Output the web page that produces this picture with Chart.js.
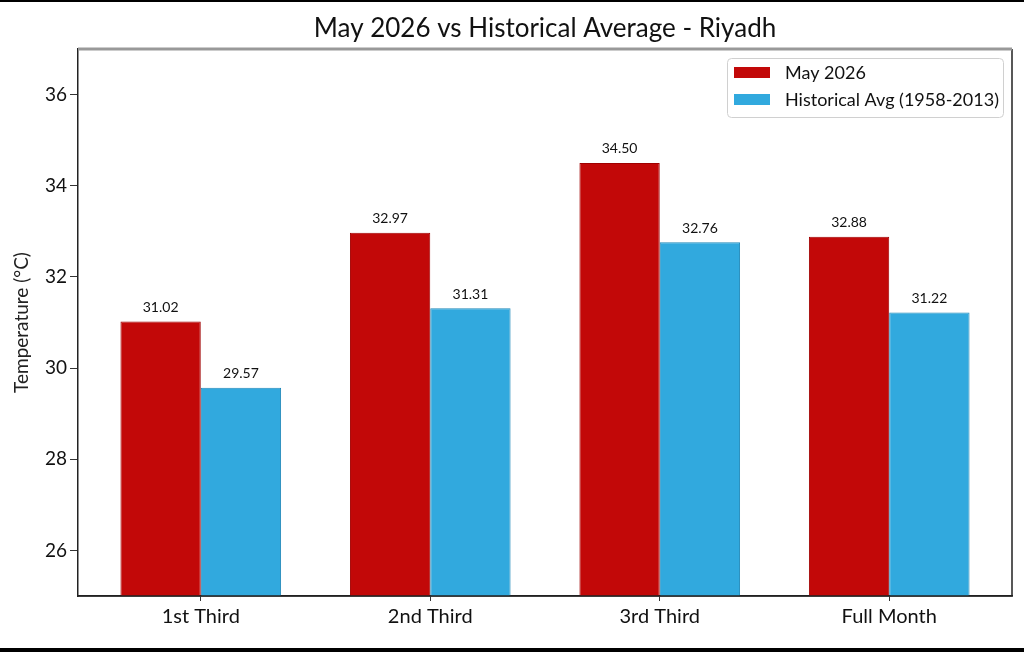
<!DOCTYPE html>
<html>
<head>
<meta charset="utf-8">
<script src="https://cdn.jsdelivr.net/npm/chart.js@4.4.1/dist/chart.umd.min.js"></script>
<style>
  html, body { margin: 0; padding: 0; background: #000; }
  #wrap { position: absolute; left: 0; top: 2px; width: 1024px; height: 646px; background: #fff; }
</style>
</head>
<body>
<div id="wrap"><canvas id="chart" width="1024" height="646"></canvas></div>
<script>
const categories = ['1st Third', '2nd Third', '3rd Third', 'Full Month'];
const may2026 = [31.02, 32.97, 34.50, 32.88];
const historical = [29.57, 31.31, 32.76, 31.22];
const yTicks = [26, 28, 30, 32, 34, 36];
const chartTitle = 'May 2026 vs Historical Average - Riyadh';

const FONT = 'Lato, "Noto Sans", sans-serif';

// value labels above each bar
const barLabels = {
  id: 'barLabels',
  afterDatasetsDraw(chart) {
    const ctx = chart.ctx;
    ctx.save();
    ctx.font = '14px ' + FONT;
    ctx.fillStyle = '#111';
    ctx.textAlign = 'center';
    ctx.textBaseline = 'bottom';
    chart.data.datasets.forEach((ds, i) => {
      chart.getDatasetMeta(i).data.forEach((bar, j) => {
        ctx.fillText(ds.data[j].y.toFixed(2), bar.x, bar.y - 7);
      });
    });
    ctx.restore();
  }
};

// title centred over the plot, box around the plot, legend inside top right
const frameAndLegend = {
  id: 'frameAndLegend',
  afterDraw(chart) {
    const ctx = chart.ctx;
    const a = chart.chartArea;
    ctx.save();
    ctx.fillStyle = '#111';
    ctx.font = '26px ' + FONT;
    ctx.textAlign = 'center';
    ctx.textBaseline = 'alphabetic';
    ctx.fillText(chartTitle, (a.left + a.right) / 2, 35);

    ctx.strokeStyle = '#222';
    ctx.lineWidth = 1.5;
    ctx.beginPath();
    ctx.moveTo(a.left, a.bottom);
    ctx.lineTo(a.right, a.bottom);
    ctx.lineTo(a.right, a.top);
    ctx.stroke();
    ctx.strokeStyle = '#999';
    ctx.lineWidth = 3;
    ctx.beginPath();
    ctx.moveTo(a.left, a.top);
    ctx.lineTo(a.right, a.top);
    ctx.stroke();

    // legend
    const bx = 727, by = 56, bw = 276, bh = 59;
    ctx.fillStyle = 'rgba(255,255,255,0.9)';
    ctx.strokeStyle = '#d0d0d0';
    ctx.lineWidth = 1;
    ctx.beginPath();
    ctx.roundRect(bx + 0.5, by + 0.5, bw, bh, 4);
    ctx.fill();
    ctx.stroke();
    ctx.font = '18px ' + FONT;
    ctx.textBaseline = 'middle';
    ctx.textAlign = 'left';
    chart.data.datasets.forEach((ds, i) => {
      const cy = by + 15 + i * 27;
      ctx.fillStyle = ds.backgroundColor;
      ctx.fillRect(bx + 7, cy - 6, 36, 11);
      ctx.fillStyle = '#111';
      ctx.fillText(ds.label, bx + 58, cy);
    });
    ctx.restore();
  }
};

new Chart(document.getElementById('chart'), {
  type: 'bar',
  data: {
    datasets: [
      {
        label: 'May 2026',
        data: may2026.map((v, i) => ({ x: i, y: v })),
        backgroundColor: '#C20808',
        borderColor: '#A00000',
        borderWidth: 1,
        categoryPercentage: 0.7,
        barPercentage: 1
      },
      {
        label: 'Historical Avg (1958-2013)',
        data: historical.map((v, i) => ({ x: i, y: v })),
        backgroundColor: '#31A9DE',
        borderColor: '#1F88B9',
        borderWidth: 1,
        categoryPercentage: 0.7,
        barPercentage: 1
      }
    ]
  },
  options: {
    responsive: false,
    animation: false,
    layout: { padding: { left: 0, right: 12, top: 47, bottom: 0 } },
    plugins: {
      legend: { display: false },
      tooltip: { enabled: false },
      title: { display: false }
    },
    scales: {
      x: {
        type: 'linear',
        min: -0.535,
        max: 3.535,
        offset: false,
        grid: { display: true, offset: false, drawOnChartArea: false, drawTicks: true, tickLength: 5, color: '#333' },
        border: { display: true, color: '#222', width: 1.5 },
        ticks: {
          color: '#111',
          font: { family: FONT, size: 20 },
          padding: 4,
          callback: (v) => categories[v]
        },
        afterBuildTicks(scale) { scale.ticks = categories.map((c, i) => ({ value: i })); },
        afterFit(scale) { scale.height = 52; }
      },
      y: {
        min: 25,
        max: 37,
        grid: { display: true, drawOnChartArea: false, drawTicks: true, tickLength: 8, color: '#333' },
        border: { display: true, color: '#222', width: 1.5 },
        ticks: { color: '#111', font: { family: FONT, size: 19 }, padding: 3 },
        afterBuildTicks(scale) { scale.ticks = yTicks.map(v => ({ value: v })); },
        title: {
          display: true,
          text: 'Temperature (°C)',
          color: '#222',
          font: { family: FONT, size: 19 },
          padding: { top: 10, bottom: 6 }
        },
        afterFit(scale) { scale.width = 78; }
      }
    }
  },
  plugins: [barLabels, frameAndLegend]
});
</script>
</body>
</html>
